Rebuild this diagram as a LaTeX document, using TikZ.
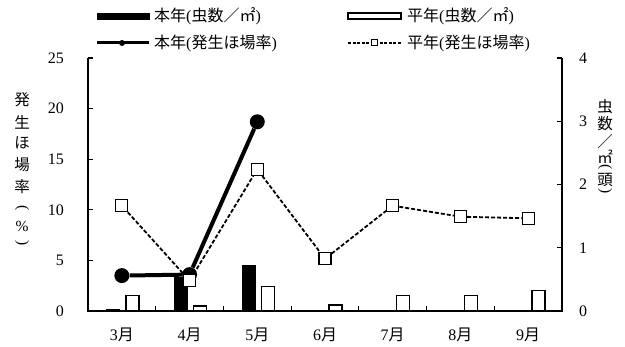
\documentclass[tikz,border=0pt]{standalone}
\usepackage{fontspec}
\setmainfont{Liberation Serif}
\newfontfamily\jp{Noto Sans CJK JP}
\newcommand{\vlp}{{\rmfamily\rotatebox[origin=c]{-90}{(}}}
\newcommand{\vrp}{{\rmfamily\rotatebox[origin=c]{-90}{)}}}
\begin{document}
\begin{tikzpicture}[x=1pt,y=1pt,font=\fontsize{16}{18}\selectfont]
\useasboundingbox (0,0) rectangle (625,347);
\tikzset{
  axisline/.style={line width=1.5pt},
  nbar/.style={fill=black,draw=black,line width=1pt},
  hbar/.style={fill=white,draw=black,line width=1.3pt},
  hondot/.style={circle,fill=black,minimum size=15pt,inner sep=0pt},
  heisq/.style={rectangle,draw=black,fill=white,line width=1.2pt,minimum size=12pt,inner sep=0pt},
  honline/.style={line width=4pt},
  heiline/.style={line width=1.8pt,dash pattern=on 4pt off 2pt},
  lbl/.style={inner sep=0pt},
  vch/.style={inner sep=0pt,font=\jp\fontsize{15.5}{16}\selectfont}
}
% ---- bars (right axis)
\foreach \c/\t in {121.86/37.5,189.57/69,257.29/81}
  \draw[nbar] (\c-15,36) rectangle (\c-2,\t);
\foreach \c/\t in {121.86/51.3,189.57/41,257.29/60.7,325.0/42,392.71/51.3,460.43/51.3,528.14/56.3}
  \draw[hbar] (\c+4,36) rectangle (\c+17,\t);
% ---- axes
\coordinate (o) at (88,36);
\coordinate (lt) at (88,289);
\coordinate (r0) at (562,36);
\coordinate (rt) at (562,289);
\draw[axisline] (lt) -- (o) -- (r0) -- (rt);
\foreach \k in {1,...,5} \draw[line width=1.2pt] (88,36+50.6*\k) -- ++(5,0);
\foreach \k in {1,...,4} \draw[line width=1.2pt] (562,36+63.25*\k) -- ++(-5,0);
\foreach \k in {1,...,6} \draw[line width=1.2pt] (88+67.714*\k,36) -- ++(0,5);
% tick labels
\foreach \v [count=\k from 0] in {0,5,10,15,20,25}
  \node[anchor=east,lbl] (yl\k) at (64,36+50.6*\k) {\v};
\foreach \v [count=\k from 0] in {0,1,2,3,4}
  \node[anchor=west,lbl] (yr\k) at (579,36+63.25*\k) {\v};
\foreach \m [count=\k from 0] in {3,4,5,6,7,8,9}
  \node[lbl] (xl\k) at (121.86+67.714*\k,12) {\m{\jp 月}};
% axis titles (vertical text, one character per node)
\foreach \ch/\py [count=\k] in {発/100,生/122,ほ/143,場/165,率/187,\vlp/209,{\rmfamily\%}/226,\vrp/244}
  \node[vch] (yt\k) at (22,347-\py) {\ch};
\foreach \ch/\py [count=\k] in {虫/107,数/124,／/142,㎡/157,\vlp/168,頭/180,\vrp/192}
  \node[vch] (yr\k) at (605,347-\py) {\ch};
% ---- 本年 line
\node[hondot] (a0) at (121.86,71.4) {};
\node[hondot] (a1) at (189.57,72.4) {};
\node[hondot] (a2) at (257.29,225.2) {};
\draw[honline] (a0) -- (a1) -- (a2);
% ---- 平年 line
\node[heisq] (h0) at (121.86,141.3) {};
\node[heisq] (h1) at (189.57,66.3) {};
\node[heisq] (h2) at (257.29,177.7) {};
\node[heisq] (h3) at (325.0,88.2) {};
\node[heisq] (h4) at (392.71,141.3) {};
\node[heisq] (h5) at (460.43,130.3) {};
\node[heisq] (h6) at (528.14,128.7) {};
\draw[heiline] (h0) -- (h1) -- (h2) -- (h3) -- (h4) -- (h5) -- (h6);
% ---- legend
\draw[fill=black] (97,328) rectangle (149,334);
\node[lbl,anchor=west] (t1) at (154,331) {{\jp 本年}({\jp 虫数／㎡})};
\draw[fill=white,line width=1.2pt] (348,328) rectangle (401,334);
\node[lbl,anchor=west] (t2) at (407,331) {{\jp 平年}({\jp 虫数／㎡})};
\coordinate (la) at (97,304);
\coordinate (lb) at (149,304);
\draw[line width=3pt] (la) -- (lb);
\node[circle,fill=black,minimum size=6pt,inner sep=0pt] (ld) at (122,304) {};
\node[lbl,anchor=west] (t3) at (154,304) {{\jp 本年}({\jp 発生ほ場率})};
\coordinate (lc) at (348,304);
\coordinate (le) at (401,304);
\draw[line width=1.5pt,dash pattern=on 3pt off 1.5pt] (lc) -- (le);
\node[rectangle,draw=black,fill=white,line width=1pt,minimum size=6pt,inner sep=0pt] (lf) at (374,304) {};
\node[lbl,anchor=west] (t4) at (407,304) {{\jp 平年}({\jp 発生ほ場率})};
\end{tikzpicture}
\end{document}
